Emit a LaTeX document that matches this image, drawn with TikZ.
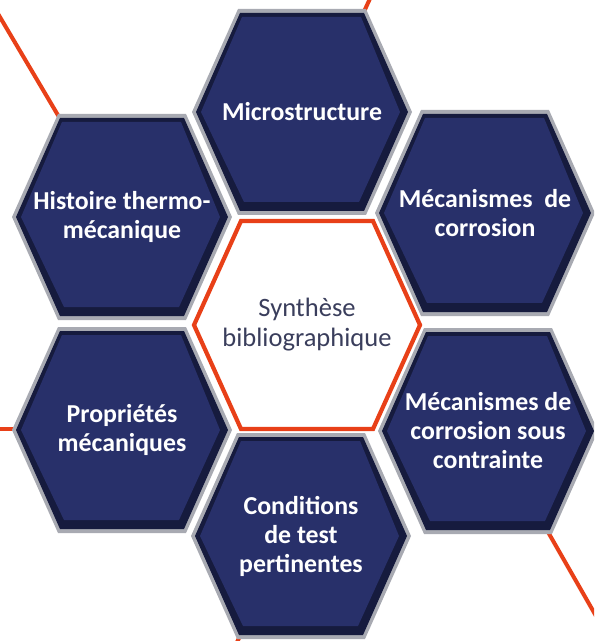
\documentclass[tikz,border=0pt]{standalone}
\usepackage{fontspec}
\setmainfont{Carlito}
\usepackage{tikz}
\definecolor{hexnavy}{RGB}{40,48,106}
\definecolor{hexdeep}{RGB}{22,27,62}
\definecolor{hexrim}{RGB}{168,170,178}
\definecolor{synorange}{RGB}{232,64,24}
\definecolor{syntext}{RGB}{58,62,92}
\tikzset{
  rim/.style={fill=hexrim},
  deep/.style={fill=hexdeep},
  face/.style={fill=hexnavy},
  lattice/.style={draw=synorange,line width=2.3pt},
  hub/.style={draw=synorange,fill=white,line width=2.4pt,line join=miter},
  celltext/.style={align=center,text=white,font=\fontsize{14.7}{16.5}\selectfont\bfseries},
  hubtext/.style={align=center,text=syntext,font=\fontsize{15.1}{17}\selectfont}
}
% one bevelled hexagon: x, y, name, text
\newcommand{\hexcell}[4]{%
  \fill[rim] (#1,#2) +(-110,0) -- +(-64,-103) -- +(64,-103) -- +(110,0) -- +(64,103) -- +(-64,103) -- cycle;
  \fill[deep] (#1,#2) +(-106,0) -- +(-62,-99) -- +(62,-99) -- +(106,0) -- +(62,99) -- +(-62,99) -- cycle;
  \fill[face] (#1,#2) +(-101,0) -- +(-60,-95) -- +(59,-95) -- +(98,0) -- +(57,90) -- +(-58,90) -- cycle;
  \node[celltext] (#3) at (#1,#2) {#4};
}

\begin{document}
\begin{tikzpicture}[x=0.02cm,y=-0.02cm]
\useasboundingbox (0,0) rectangle (594,641);
\clip (0,0) rectangle (594,641);
% orange lattice behind the cells
\draw[lattice] (-6,7) -- (62,122);
\draw[lattice] (362,16) -- (373,-8);
\draw[lattice] (-10,429) -- (20,429);
\draw[lattice] (544,525) -- (604,630);
\draw[lattice] (242,632) -- (233,650);
% cells
\hexcell{302}{112}{micro}{Microstructure}
\hexcell{122}{217}{histoire}{Histoire thermo-\\mécanique}
\hexcell{485}{213}{mecacorr}{Mécanismes\ \ de\\corrosion}
\hexcell{122}{430}{proprietes}{Propriétés\\mécaniques}
\hexcell{488}{431}{mecacsc}{Mécanismes de\\corrosion\ sous\\contrainte}
\hexcell{301}{536}{conditions}{Conditions\\de test\\pertinentes}
% centre
\draw[hub] (307,325) +(-113,0) -- +(-66,-104) -- +(66,-104) -- +(113,0) -- +(66,104) -- +(-66,104) -- cycle;
\node[hubtext] (synthese) at (307,325) {Synthèse\\bibliographique};
\end{tikzpicture}
\end{document}
